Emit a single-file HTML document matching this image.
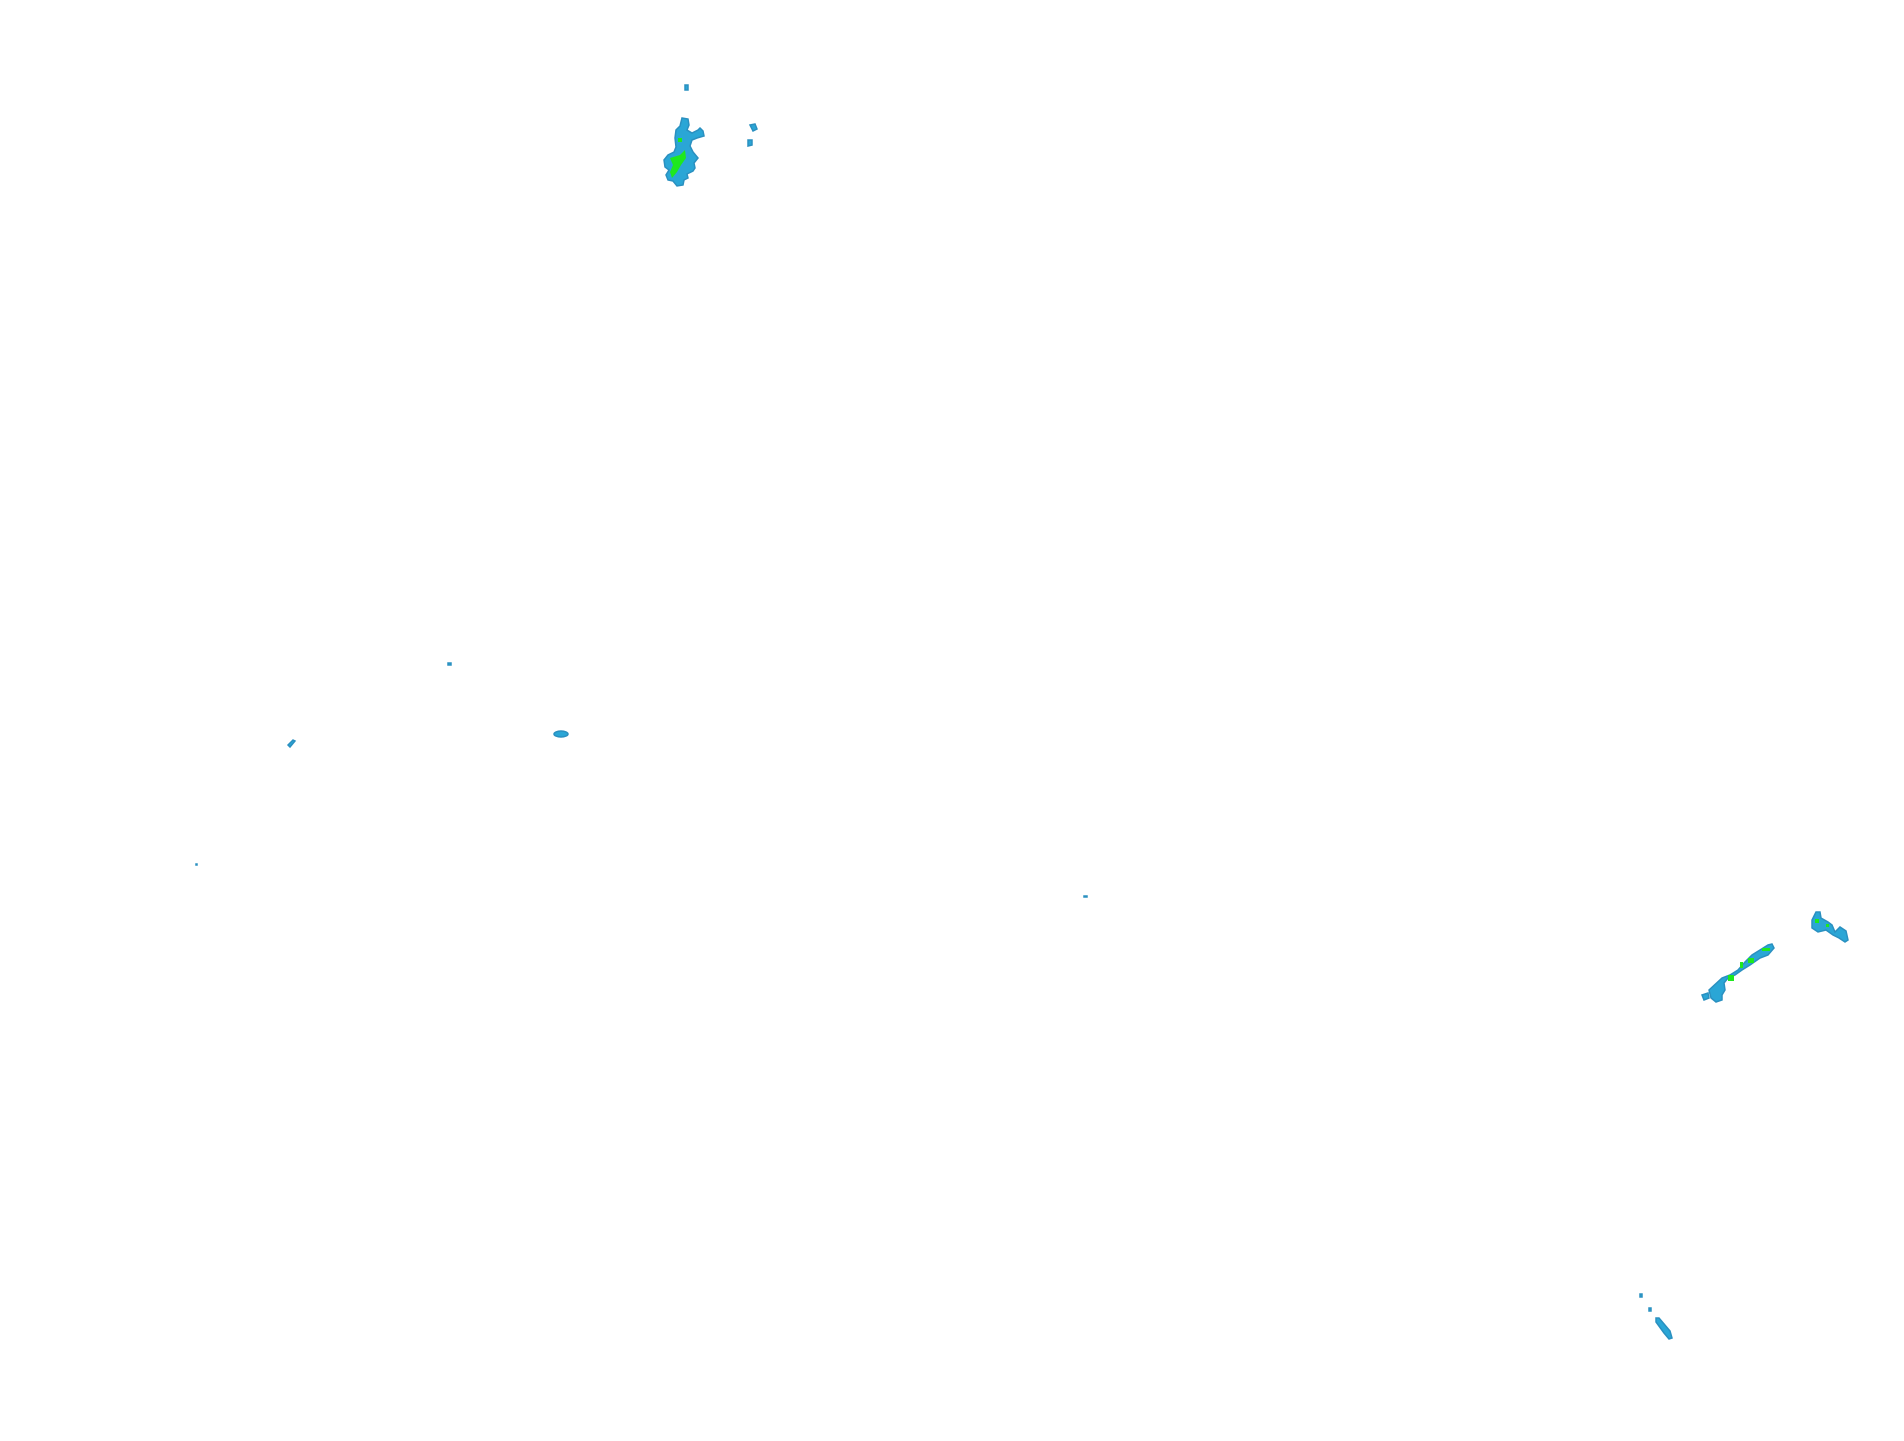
<!DOCTYPE html>
<html><head><meta charset="utf-8"><style>html,body{margin:0;padding:0;background:#fff;width:1904px;height:1441px;overflow:hidden}</style></head>
<body>
<svg width="1904" height="1441" viewBox="0 0 1904 1441" xmlns="http://www.w3.org/2000/svg">
<g fill="#2aa6d6" stroke="#2a90c0" stroke-width="1.5">
<!-- top blob -->
<polygon points="682,118 688,119 689,125 687,130 692,133 698,130 700,128 703,131 704,136 697,138 692,140 690,146 693,152 698,158 694,163 695,168 693,171 687,174 688,178 684,180 683,185 677,186 673,181 668,180 666,175 669,170 665,167 664,160 668,155 674,152 676,147 675,138 676,130 680,126"/>
<rect x="685" y="85" width="3" height="5"/>
<polygon points="750,125 755,124 757,129 753,131"/>
<polygon points="748,140 752,140 752,145 748,146"/>
<!-- right blobs -->
<polygon points="1709,990 1722,978 1730,975 1738,970 1745,962 1752,955 1760,950 1768,945 1772,944 1774,948 1768,955 1760,958 1750,965 1742,970 1735,975 1728,978 1724,983 1725,990 1722,995 1722,1000 1716,1002 1711,998"/>
<polygon points="1702,995 1708,993 1709,998 1704,1000"/>
<polygon points="1816,912 1820,912 1821,918 1828,922 1832,925 1835,932 1840,927 1846,931 1848,940 1845,942 1839,938 1833,935 1826,930 1818,932 1812,928 1812,920"/>
<!-- small bits -->
<ellipse cx="561" cy="734" rx="7" ry="3"/>
<polygon points="288,745 293,740 295,741 290,747"/>
<rect x="448" y="663" width="3" height="2"/>
<rect x="196" y="864" width="1" height="1"/>
<rect x="1084" y="896" width="3" height="1"/>
<rect x="1640" y="1294" width="2" height="3"/>
<rect x="1649" y="1308" width="2" height="3"/>
<polygon points="1656,1318 1659,1318 1670,1331 1672,1338 1669,1339 1664,1333 1656,1322"/>
</g>
<g fill="#1ee81e" stroke="none">
<polygon points="670,158 680,155 685,150 686,158 681,165 677,172 672,178 670,172 673,165"/>
<rect x="678" y="138" width="4" height="4"/>
<rect x="1728" y="975" width="6" height="6"/>
<rect x="1748" y="958" width="6" height="5"/>
<rect x="1762" y="948" width="8" height="3"/>
<rect x="1740" y="962" width="3" height="6"/>
<rect x="1815" y="919" width="4" height="4"/>
<rect x="1826" y="924" width="3" height="3"/>
</g>
</svg>
</body></html>
